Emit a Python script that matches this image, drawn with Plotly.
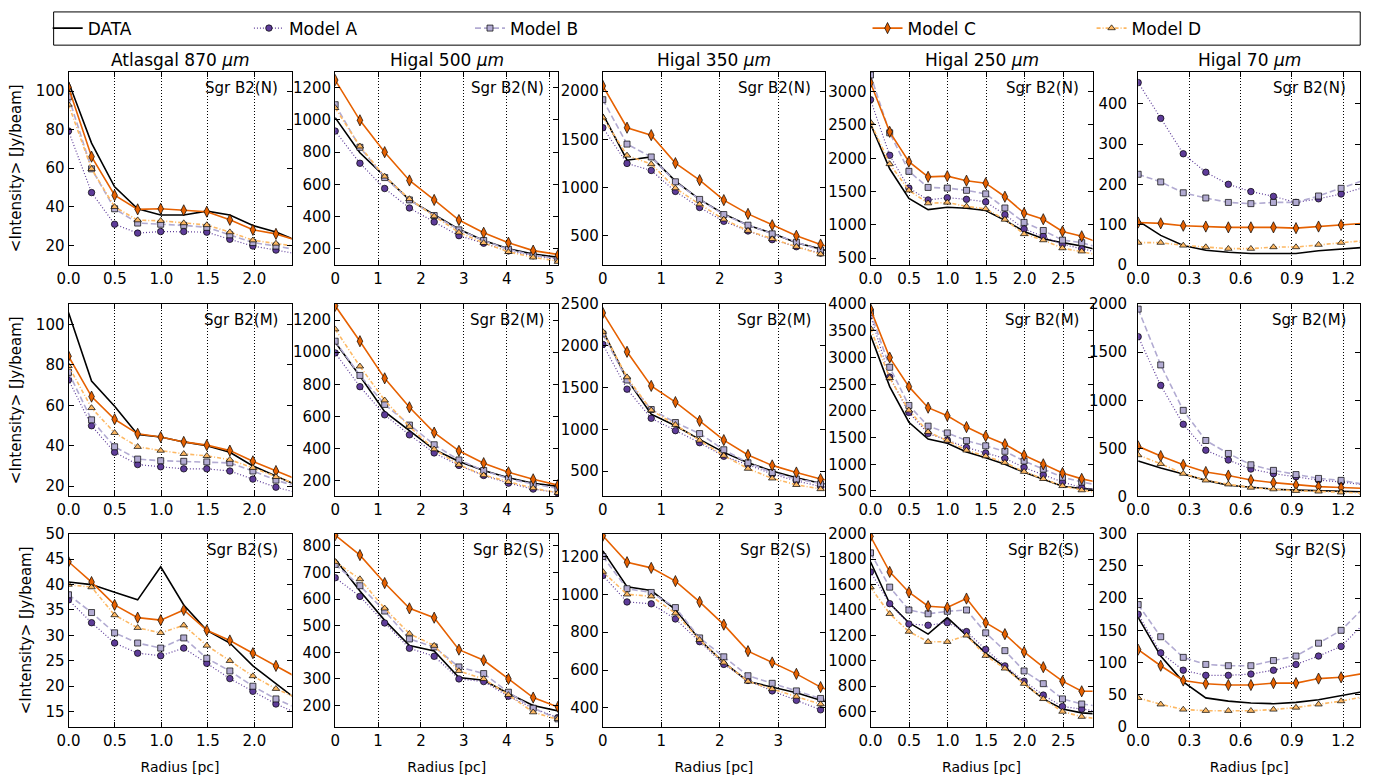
import plotly.graph_objects as go

W, H = 1386, 780
FONT = "DejaVu Sans"

# ---------------- data ----------------
SERIES = ["DATA", "Model A", "Model B", "Model C", "Model D"]
BANDS = ["Atlasgal 870 <i>μm</i>", "Higal 500 <i>μm</i>", "Higal 350 <i>μm</i>",
         "Higal 250 <i>μm</i>", "Higal 70 <i>μm</i>"]
SOURCES = ["Sgr B2(N)", "Sgr B2(M)", "Sgr B2(S)"]

radius_870 = [0, 0.248, 0.496, 0.744, 0.992, 1.24, 1.488, 1.736, 1.984, 2.232, 2.48]
radius_500 = [0, 0.577, 1.154, 1.731, 2.308, 2.885, 3.462, 4.039, 4.616, 5.193, 5.77]
radius_350 = [0, 0.414, 0.828, 1.242, 1.656, 2.07, 2.484, 2.898, 3.312, 3.726, 4.14]
radius_250 = [0, 0.249, 0.498, 0.747, 0.996, 1.245, 1.494, 1.743, 1.992, 2.241, 2.49, 2.739, 2.988]
radius_70 = [0, 0.132, 0.264, 0.396, 0.528, 0.66, 0.792, 0.924, 1.056, 1.188, 1.32]
RADII = [radius_870, radius_500, radius_350, radius_250, radius_70]

# Sgr B2(N)
n_870 = {
    "DATA":    [104.7, 73, 50.4, 39, 35.8, 35.8, 37.8, 35.8, 30.3, 27, 22],
    "Model A": [79.3, 47.4, 31, 26.4, 27.2, 27.2, 26.9, 23.2, 19.7, 17.6, 15.5],
    "Model B": [97, 59.7, 39, 31.6, 31, 30.4, 29.4, 25.5, 21.5, 19.7, 17.5],
    "Model C": [102, 66, 46, 38.7, 39, 38.2, 37.5, 33.3, 28.1, 26, 22.3],
    "Model D": [93, 59.7, 40, 33.1, 32.8, 31.6, 30.6, 26.9, 22.7, 21, 19.3],
}
n_500 = {
    "DATA":    [1014, 796, 649, 503, 412, 321, 251, 200, 166, 146, 128],
    "Model A": [931, 731, 574, 453, 366, 281, 234, 186, 156, 134, 115],
    "Model B": [1095, 830, 642, 503, 406, 317, 251, 196, 160, 134, 115],
    "Model C": [1248, 998, 800, 624, 503, 378, 299, 237, 188, 160, 140],
    "Model D": [1075, 836, 649, 509, 402, 301, 236, 180, 146, 119, 100],
}
n_350 = {
    "DATA":    [1760, 1283, 1317, 1067, 877, 727, 610, 527, 427, 360, 300],
    "Model A": [1620, 1250, 1177, 960, 793, 650, 550, 460, 387, 320, 270],
    "Model B": [1910, 1450, 1317, 1060, 877, 720, 610, 520, 433, 353, 300],
    "Model C": [2053, 1620, 1543, 1253, 1077, 870, 727, 610, 500, 410, 340],
    "Model D": [1727, 1333, 1243, 993, 827, 670, 553, 467, 387, 310, 260],
}
n_250 = {
    "DATA":    [2517, 1842, 1398, 1229, 1263, 1248, 1214, 1070, 901, 790, 732, 683, 610],
    "Model A": [2879, 2044, 1552, 1374, 1407, 1383, 1345, 1152, 939, 828, 707, 640, 580],
    "Model B": [3250, 2382, 1803, 1562, 1552, 1518, 1465, 1253, 1036, 915, 770, 732, 650],
    "Model C": [3135, 2397, 1948, 1721, 1731, 1663, 1625, 1422, 1176, 1084, 901, 828, 720],
    "Model D": [2540, 1914, 1518, 1325, 1335, 1277, 1239, 1079, 862, 770, 650, 602, 540],
}
n_70 = {
    "DATA":    [109, 73, 48, 36, 31, 28, 28, 28, 35, 39, 43],
    "Model A": [453, 364, 276, 230, 200, 182, 170, 155, 164, 176, 192],
    "Model B": [225, 206, 179, 166, 155, 152, 155, 155, 171, 190, 210],
    "Model C": [105, 103, 97, 95, 93, 93, 93, 91, 95, 99, 103],
    "Model D": [55, 55, 48, 44, 40, 40, 44, 44, 50, 55, 60],
}

# Sgr B2(M)
m_870 = {
    "DATA":    [105.9, 72, 59.5, 45.6, 44.3, 41.9, 40, 36.8, 30, 25, 20],
    "Model A": [72.6, 49.9, 36.8, 30.7, 29.6, 28.6, 28.6, 27.5, 23.5, 19.5, 16.5],
    "Model B": [76.3, 52.8, 39.5, 33.4, 32.6, 32.3, 32, 31.5, 27.5, 23, 19.5],
    "Model C": [84.3, 64.3, 53.1, 45.9, 44.3, 41.9, 40.3, 37.6, 32.3, 27.5, 23],
    "Model D": [79.5, 58.7, 46.4, 39.5, 37.6, 36, 35, 33.1, 29.1, 24.6, 20.5],
}
m_500 = {
    "DATA":    [1063, 851, 629, 508, 392, 317, 261, 216, 182, 162, 145],
    "Model A": [996, 785, 609, 484, 371, 293, 230, 182, 145, 121, 100],
    "Model B": [1069, 855, 674, 545, 422, 327, 261, 210, 176, 149, 130],
    "Model C": [1290, 1069, 837, 656, 498, 384, 307, 250, 206, 170, 145],
    "Model D": [1144, 912, 700, 535, 394, 297, 232, 190, 151, 121, 100],
}
m_350 = {
    "DATA":    [2183, 1600, 1184, 1044, 881, 726, 601, 504, 423, 357, 310],
    "Model A": [2019, 1483, 1134, 986, 842, 679, 578, 465, 384, 318, 270],
    "Model B": [2144, 1592, 1239, 1083, 951, 757, 601, 485, 407, 349, 300],
    "Model C": [2396, 1930, 1522, 1328, 1103, 873, 695, 570, 485, 407, 360],
    "Model D": [2171, 1627, 1231, 1056, 869, 687, 531, 415, 337, 287, 240],
}
m_250 = {
    "DATA":    [3424, 2455, 1788, 1473, 1394, 1230, 1121, 1000, 849, 715, 588, 546, 520],
    "Model A": [3788, 2636, 1970, 1576, 1455, 1315, 1212, 1109, 940, 800, 667, 564, 520],
    "Model B": [3848, 2818, 2103, 1715, 1588, 1443, 1346, 1243, 1061, 909, 758, 667, 600],
    "Model C": [3909, 3000, 2455, 2061, 1909, 1697, 1527, 1376, 1170, 1000, 837, 727, 650],
    "Model D": [3545, 2618, 2012, 1606, 1443, 1261, 1152, 1030, 861, 727, 594, 515, 460],
}
m_70 = {
    "DATA":    [368, 294, 233, 166, 115, 91, 74, 64, 57, 51, 47],
    "Model A": [1662, 1155, 750, 480, 378, 284, 236, 203, 169, 149, 120],
    "Model B": [1949, 1368, 895, 581, 446, 328, 270, 226, 186, 166, 125],
    "Model C": [520, 419, 328, 253, 216, 169, 142, 118, 101, 91, 83],
    "Model D": [429, 338, 236, 166, 125, 91, 74, 57, 51, 41, 33],
}

# Sgr B2(S)
s_870 = {
    "DATA":    [40.5, 40, 38.5, 37, 43.5, 36, 31, 28.5, 24, 20.5, 17],
    "Model A": [37, 32.5, 28.5, 26.5, 26, 27.5, 24.5, 21.5, 19, 16.5, 14.5],
    "Model B": [38, 34.5, 30.5, 28.5, 27.5, 29.5, 25.5, 23, 20, 17.5, 15.5],
    "Model C": [44.5, 40.5, 36, 33.5, 33, 35, 31, 29, 26.5, 24, 21.5],
    "Model D": [40, 39.5, 34, 31.5, 30.5, 32, 28, 25, 22, 19.5, 17.5],
}
s_500 = {
    "DATA":    [750, 630, 520, 425, 405, 305, 295, 245, 200, 180, 160],
    "Model A": [680, 610, 510, 415, 385, 300, 290, 235, 190, 155, 130],
    "Model B": [730, 650, 555, 450, 420, 345, 320, 250, 190, 150, 120],
    "Model C": [840, 765, 660, 565, 530, 410, 370, 300, 230, 195, 160],
    "Model D": [740, 675, 565, 470, 425, 330, 300, 240, 175, 150, 120],
}
s_350 = {
    "DATA":    [1230, 1040, 1020, 920, 760, 640, 540, 510, 480, 440, 410],
    "Model A": [1100, 960, 950, 870, 750, 630, 545, 490, 440, 390, 350],
    "Model B": [1200, 1030, 1010, 930, 770, 670, 570, 530, 490, 450, 420],
    "Model C": [1310, 1170, 1140, 1070, 960, 840, 700, 640, 580, 510, 460],
    "Model D": [1120, 1000, 990, 900, 760, 640, 540, 500, 460, 420, 390],
}
s_250 = {
    "DATA":    [1780, 1450, 1300, 1210, 1340, 1200, 1060, 950, 820, 700, 620, 590, 580],
    "Model A": [1700, 1450, 1290, 1280, 1300, 1230, 1090, 960, 840, 730, 640, 620, 600],
    "Model B": [1850, 1580, 1400, 1370, 1390, 1400, 1220, 1080, 920, 820, 700, 660, 640],
    "Model C": [1980, 1700, 1540, 1430, 1420, 1490, 1300, 1210, 1070, 950, 840, 760, 760],
    "Model D": [1580, 1370, 1230, 1150, 1150, 1200, 1040, 940, 820, 700, 600, 560, 540],
}
s_70 = {
    "DATA":    [170, 110, 70, 45, 40, 37, 36, 38, 42, 48, 55],
    "Model A": [175, 115, 88, 80, 80, 82, 88, 97, 110, 125, 160],
    "Model B": [190, 140, 108, 97, 95, 95, 103, 110, 130, 150, 185],
    "Model C": [120, 95, 72, 67, 65, 65, 68, 68, 75, 77, 83],
    "Model D": [45, 35, 27, 25, 25, 25, 27, 30, 35, 40, 47],
}

PANELS = [[n_870, n_500, n_350, n_250, n_70],
          [m_870, m_500, m_350, m_250, m_70],
          [s_870, s_500, s_350, s_250, s_70]]

X_RANGES = [[0, 2.4], [0, 5.2], [0, 3.8], [0, 2.88], [0, 1.3]]
X_DTICK = [0.5, 1, 1, 0.5, 0.3]
X_FMT = [".1f", "d", "d", ".1f", ".1f"]
Y_RANGES = [[[10, 110], [100, 1300], [200, 2200], [400, 3300], [0, 480]],
            [[15, 110], [100, 1300], [200, 2500], [400, 4000], [0, 2000]],
            [[12, 50], [120, 845], [300, 1320], [480, 2000], [0, 300]]]
Y_DTICK = [[20, 200, 500, 500, 100],
           [20, 200, 500, 500, 500],
           [5, 100, 200, 200, 50]]

# ---------------- styles ----------------
STYLE = {
    "DATA":    dict(mode="lines", line=dict(color="black", width=1.6, dash="solid")),
    "Model A": dict(mode="lines+markers", line=dict(color="#5e3c99", width=1.2, dash="1px,2px"),
                    marker=dict(symbol="circle", size=6.5, color="#5e3c99",
                                line=dict(color="black", width=0.7))),
    "Model B": dict(mode="lines+markers", line=dict(color="#b2abd2", width=1.6, dash="6px,3px"),
                    marker=dict(symbol="square", size=6, color="#b2abd2",
                                line=dict(color="black", width=0.7))),
    "Model C": dict(mode="lines+markers", line=dict(color="#e66101", width=1.6, dash="solid"),
                    marker=dict(symbol="diamond-tall", size=8, color="#e66101",
                                line=dict(color="black", width=0.7))),
    "Model D": dict(mode="lines+markers", line=dict(color="#fdb863", width=1.6, dash="4px,2px,1px,2px"),
                    marker=dict(symbol="triangle-up", size=6.5, color="#fdb863",
                                line=dict(color="black", width=0.7))),
}
LEGEND_ID = {"DATA": "legend", "Model A": "legend2", "Model B": "legend3",
             "Model C": "legend4", "Model D": "legend5"}
LEGEND_X = {"DATA": 36, "Model A": 239, "Model B": 462, "Model C": 863, "Model D": 1089}

COL_PX = [(57, 282), (326, 551), (596, 820), (866, 1090), (1136, 1360)]
ROW_PX = [(64, 262), (302, 499), (537, 735)]

fig = go.Figure()
layout = {}
annotations = []

for r in range(3):
    for c in range(5):
        idx = r * 5 + c + 1
        xa = "x" if idx == 1 else f"x{idx}"
        ya = "y" if idx == 1 else f"y{idx}"
        panel = PANELS[r][c]
        for name in SERIES:
            st = STYLE[name]
            fig.add_trace(go.Scatter(
                x=RADII[c], y=panel[name], name=name, xaxis=xa, yaxis=ya,
                showlegend=(idx == 1), legend=LEGEND_ID[name], **st))
        x0, x1 = COL_PX[c]
        y0, y1 = ROW_PX[r]
        yr = Y_RANGES[r][c]
        pad = (yr[1] - yr[0]) * 0.001
        xkey = "xaxis" if idx == 1 else f"xaxis{idx}"
        ykey = "yaxis" if idx == 1 else f"yaxis{idx}"
        layout[xkey] = dict(
            domain=[x0 / W, x1 / W], anchor=ya, range=X_RANGES[c],
            dtick=X_DTICK[c], tick0=0, tickformat=X_FMT[c],
            showline=True, linecolor="black", linewidth=1, mirror="ticks",
            ticks="inside", ticklen=5, tickcolor="black",
            showgrid=True, gridcolor="black", gridwidth=0.8, griddash="1px,2px",
            zeroline=False, tickfont=dict(family=FONT, size=15, color="black"),
            title=dict(text="Radius [pc]" if r == 2 else "",
                       font=dict(family=FONT, size=14, color="black"), standoff=13),
        )
        layout[ykey] = dict(
            domain=[1 - y1 / H, 1 - y0 / H], anchor=xa,
            range=[yr[0] - pad, yr[1] + pad], dtick=Y_DTICK[r][c], tick0=0,
            showline=True, linecolor="black", linewidth=1, mirror="ticks",
            ticks="inside", ticklen=5, tickcolor="black",
            showgrid=False, zeroline=False,
            ticklabelstandoff=(7 if c == 4 else 0),
            tickfont=dict(family=FONT, size=15, color="black"),
            title=dict(text="&lt;Intensity&gt; [Jy/beam]" if c == 0 else "",
                       font=dict(family=FONT, size=15, color="black"), standoff=10),
        )
        annotations.append(dict(
            text=SOURCES[r], xref=f"{xa} domain", yref=f"{ya} domain",
            x=1, y=1, xanchor="right", yanchor="top", xshift=-12, yshift=-5,
            showarrow=False, font=dict(family=FONT, size=15, color="black")))

for c in range(5):
    x0, x1 = COL_PX[c]
    annotations.append(dict(
        text=BANDS[c], xref="paper", yref="paper", x=(x0 + x1) / 2 / W, y=1 - 52 / H,
        xanchor="center", yanchor="middle", showarrow=False,
        font=dict(family=FONT, size=17, color="black")))

for name in SERIES:
    key = LEGEND_ID[name]
    layout[key] = dict(
        x=LEGEND_X[name] / W, y=1 - 20 / H, xanchor="left", yanchor="middle",
        bgcolor="rgba(0,0,0,0)", borderwidth=0,
        font=dict(family=FONT, size=17, color="black"))

fig.update_layout(
    width=W, height=H, margin=dict(l=0, r=0, t=0, b=0),
    paper_bgcolor="white", plot_bgcolor="white",
    annotations=annotations,
    shapes=[dict(type="rect", xref="paper", yref="paper",
                 x0=42 / W, x1=1360 / W, y0=1 - 37 / H, y1=1 - 3 / H,
                 line=dict(color="black", width=1), fillcolor="rgba(0,0,0,0)")],
    **layout,
)

fig.write_html("out.html", config={"displayModeBar": False})
